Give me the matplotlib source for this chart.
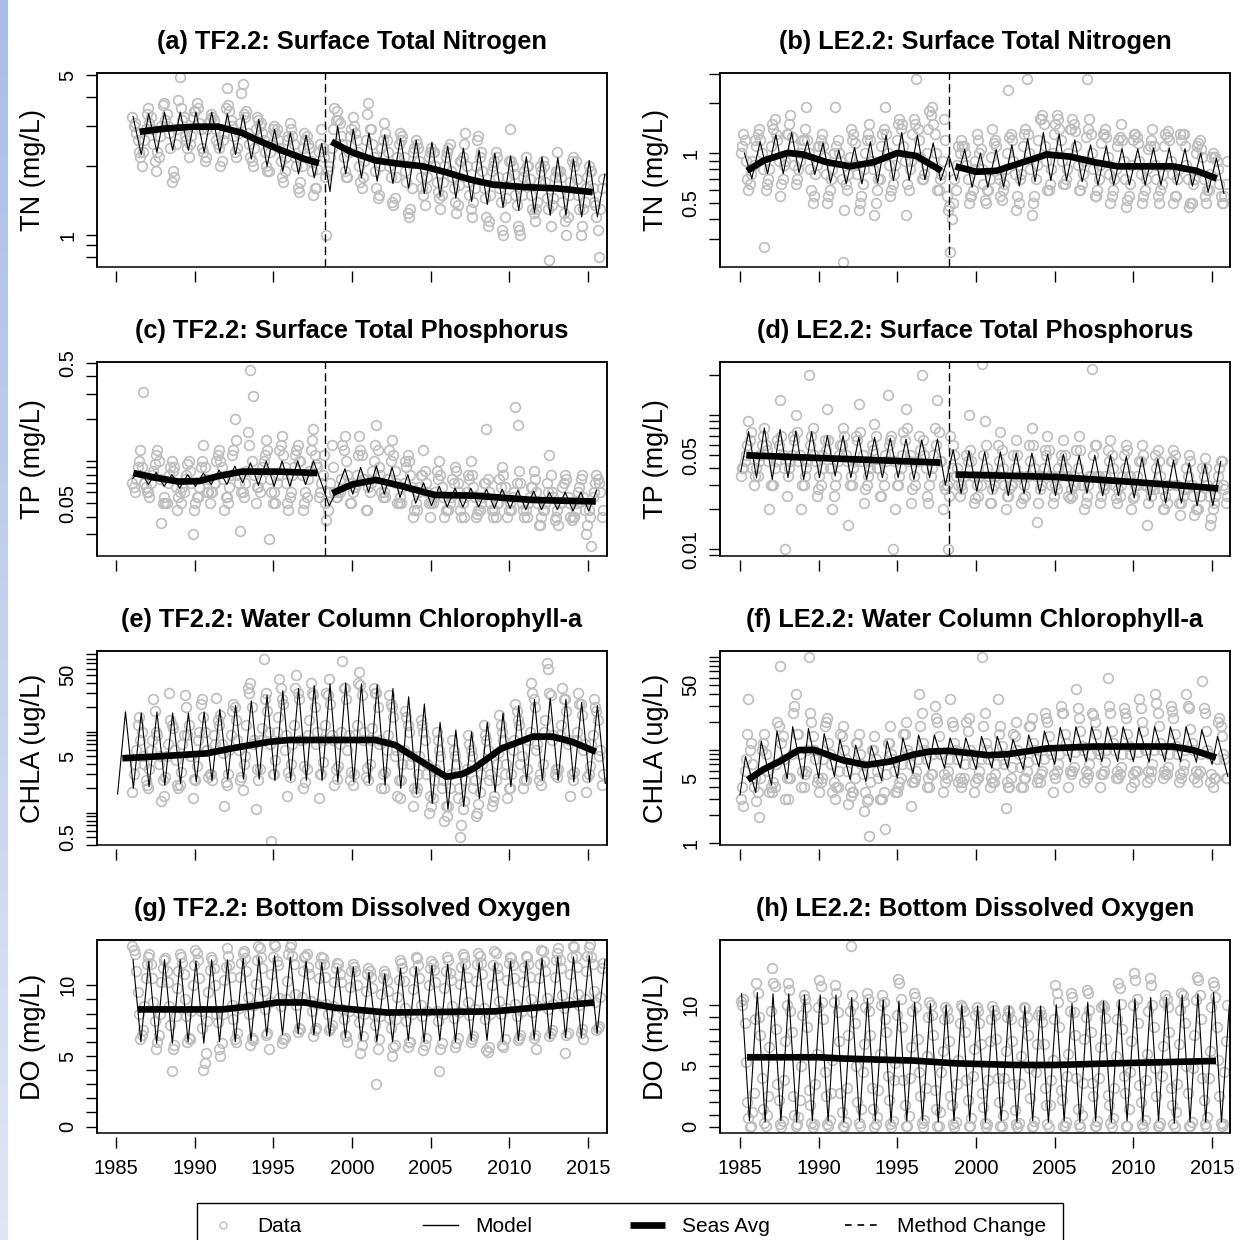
import numpy as np
import matplotlib.pyplot as plt
from matplotlib.lines import Line2D
from matplotlib.patches import Rectangle
from matplotlib.ticker import NullLocator
from matplotlib.colors import LinearSegmentedColormap

plt.rcParams['font.family'] = ['Liberation Sans', 'DejaVu Sans']

# sampling times inside each year: first set (Jan, Mar, ... Nov), second set (Feb, Apr, ... Dec)
months = [0.04, 0.21, 0.375, 0.54, 0.71, 0.875]
months2 = [0.125, 0.29, 0.46, 0.625, 0.79, 0.96]
year_ticks = [1985, 1990, 1995, 2000, 2005, 2010, 2015]
method_change = 1998.3

titles = ['(a) TF2.2: Surface Total Nitrogen', '(b) LE2.2: Surface Total Nitrogen',
          '(c) TF2.2: Surface Total Phosphorus', '(d) LE2.2: Surface Total Phosphorus',
          '(e) TF2.2: Water Column Chlorophyll-a', '(f) LE2.2: Water Column Chlorophyll-a',
          '(g) TF2.2: Bottom Dissolved Oxygen', '(h) LE2.2: Bottom Dissolved Oxygen']
ylabels = ['TN (mg/L)', 'TN (mg/L)', 'TP (mg/L)', 'TP (mg/L)',
           'CHLA (ug/L)', 'CHLA (ug/L)', 'DO (mg/L)', 'DO (mg/L)']
legend_labels = ['Data', 'Model', 'Seas Avg', 'Method Change']

# ---------------- (a) TN TF2.2, data 1986-2015
tn_tf_data = [
    [3.3, 3.1, 2.6, 2.2, 2.3, 2.9], [3.6, 3.3, 2.5, 1.9, 2.2, 3.0], [3.8, 3.4, 2.8, 1.7, 1.8, 2.9],
    [4.9, 3.2, 2.7, 2.4, 2.5, 3.3], [3.5, 3.6, 2.9, 2.3, 2.2, 3.1], [3.4, 3.2, 2.6, 2.4, 2.1, 2.8],
    [4.4, 3.5, 3.0, 2.3, 2.4, 3.1], [4.6, 3.3, 2.8, 2.2, 2.0, 2.9], [3.2, 3.1, 2.6, 2.0, 1.9, 2.5],
    [3.0, 2.9, 2.4, 1.8, 1.9, 2.6], [3.1, 2.7, 2.2, 1.6, 1.7, 2.4], [2.6, 2.5, 2.1, 1.5, 1.6, 2.3],
    [2.9, 2.2, 1.0, 2.0, 2.4, 3.6], [3.5, 3.1, 2.5, 1.9, 1.8, 2.7], [3.3, 2.8, 2.3, 1.7, 1.8, 2.6],
    [3.8, 2.9, 2.2, 1.6, 1.5, 2.4], [3.1, 2.6, 2.0, 1.4, 1.45, 2.2], [2.8, 2.7, 1.9, 1.25, 1.3, 2.3],
    [2.6, 2.4, 1.8, 1.5, 1.6, 2.2], [2.4, 2.3, 1.7, 1.45, 1.5, 2.0], [2.3, 2.5, 1.8, 1.4, 1.35, 2.1],
    [2.2, 2.8, 1.7, 1.3, 1.4, 2.0], [2.7, 2.3, 1.6, 1.2, 1.15, 1.9], [2.1, 2.2, 1.6, 1.05, 1.2, 1.8],
    [2.9, 2.0, 1.5, 1.1, 1.0, 1.8], [2.2, 2.0, 1.5, 1.25, 1.3, 1.7], [1.9, 2.0, 1.45, 0.78, 1.35, 1.8],
    [2.3, 1.9, 1.4, 1.15, 1.2, 1.7], [2.2, 2.1, 1.5, 1.0, 1.3, 1.6], [2.0, 1.9, 1.4, 1.2, 0.8, 1.6]]
tn_tf_data2 = [
    [3.0, 2.8, 2.3, 2.0, 2.6, 3.4], [3.1, 2.9, 2.1, 2.3, 2.7, 3.7], [3.2, 3.0, 2.4, 1.9, 2.5, 3.9],
    [3.6, 3.3, 2.6, 2.2, 2.7, 3.5], [3.8, 3.1, 2.4, 2.1, 2.9, 3.2], [3.3, 2.9, 2.5, 2.0, 2.6, 3.6],
    [3.7, 3.2, 2.7, 2.2, 2.8, 4.2], [3.4, 3.5, 2.5, 2.1, 2.4, 3.3], [3.0, 2.8, 2.3, 1.9, 2.3, 2.9],
    [2.8, 2.6, 2.1, 1.7, 2.2, 2.7], [2.9, 2.5, 2.0, 1.55, 2.0, 2.8], [2.7, 2.4, 1.9, 1.6, 1.95, 2.5],
    [2.4, 1.8, 1.9, 2.2, 2.9, 3.2], [3.2, 2.7, 2.2, 1.8, 2.3, 2.9], [3.0, 2.6, 2.0, 1.6, 2.1, 3.4],
    [2.9, 2.5, 1.9, 1.45, 2.0, 2.6], [2.8, 2.3, 1.8, 1.35, 1.8, 2.5], [2.6, 2.2, 1.7, 1.2, 1.6, 2.4],
    [2.5, 2.1, 1.6, 1.35, 1.8, 2.3], [2.3, 2.0, 1.55, 1.3, 1.7, 2.2], [2.4, 1.9, 1.6, 1.25, 1.65, 2.1],
    [2.5, 2.0, 1.5, 1.2, 1.6, 2.6], [2.2, 1.9, 1.45, 1.1, 1.5, 2.0], [2.3, 1.8, 1.4, 1.0, 1.45, 2.1],
    [2.1, 1.85, 1.35, 1.05, 1.5, 1.9], [2.0, 1.75, 1.3, 1.15, 1.4, 2.0], [2.1, 1.7, 1.3, 1.1, 1.45, 1.9],
    [1.9, 1.8, 1.25, 1.0, 1.5, 2.1], [2.0, 1.75, 1.3, 1.1, 1.4, 1.8], [1.9, 1.6, 1.35, 1.05, 1.3, 1.75]]
tn_tf_hi = [3.3, 3.4, 3.45, 3.45, 3.45, 3.45, 3.4, 3.35, 3.2, 2.9, 2.8, 2.74, 2.52, 3.0, 2.9, 2.8,
            2.75, 2.65, 2.6, 2.55, 2.45, 2.4, 2.35, 2.28, 2.22, 2.2, 2.2, 2.18, 2.15, 2.12, 1.85]
tn_tf_lo = [2.25, 2.3, 2.35, 2.35, 2.3, 2.3, 2.25, 2.15, 2.0, 1.9, 1.85, 1.78, 1.55, 1.85, 1.78,
            1.72, 1.68, 1.6, 1.52, 1.48, 1.45, 1.4, 1.36, 1.32, 1.28, 1.25, 1.22, 1.22, 1.2, 1.2]
tn_tf_avg_x = [1986.5, 1988, 1990, 1991.5, 1993, 1994, 1995.5, 1997, 1997.9, np.nan,
               1998.7, 2000, 2001.5, 2003, 2004.5, 2006, 2007.5, 2009, 2011, 2013, 2015.3]
tn_tf_avg_y = [2.83, 2.92, 2.98, 2.98, 2.8, 2.6, 2.35, 2.15, 2.06, np.nan,
               2.56, 2.3, 2.12, 2.05, 2.0, 1.88, 1.75, 1.66, 1.62, 1.6, 1.54]

# ---------------- (b) TN LE2.2, data 1985-2015
tn_le_data = [
    [1.0, 1.3, 0.9, 0.6, 0.75, 0.85], [1.1, 1.4, 1.0, 0.27, 0.65, 0.8], [1.5, 1.6, 1.2, 0.55, 0.7, 0.9],
    [1.3, 1.7, 1.1, 0.65, 0.8, 1.0], [1.2, 1.9, 1.0, 0.6, 0.55, 0.85], [1.1, 1.3, 0.95, 0.5, 0.6, 0.8],
    [1.9, 1.2, 0.9, 0.22, 0.65, 0.75], [1.4, 1.3, 0.85, 0.45, 0.55, 0.8], [1.2, 1.5, 0.9, 0.42, 0.6, 0.7],
    [1.3, 1.9, 1.0, 0.55, 0.65, 0.85], [1.5, 1.4, 1.1, 0.42, 0.6, 0.9], [1.6, 2.8, 1.2, 0.7, 0.75, 1.0],
    [1.8, 1.9, 1.3, 0.6, 0.7, 0.9], [1.2, 0.45, 0.25, 0.5, 0.6, 1.1], [1.2, 1.1, 0.85, 0.5, 0.55, 0.8],
    [1.3, 1.0, 0.8, 0.52, 0.6, 0.7], [1.4, 1.2, 0.75, 0.55, 0.6, 0.8], [2.4, 1.3, 0.9, 0.45, 0.5, 0.75],
    [1.3, 2.8, 1.0, 0.42, 0.55, 0.85], [1.6, 1.7, 1.1, 0.6, 0.65, 1.0], [1.5, 1.6, 1.2, 0.65, 0.7, 1.0],
    [1.4, 1.5, 1.1, 0.6, 0.65, 0.9], [2.8, 1.6, 1.0, 0.55, 0.6, 0.85], [1.3, 1.4, 0.95, 0.5, 0.6, 0.8],
    [1.2, 1.5, 0.9, 0.47, 0.55, 0.85], [1.3, 1.25, 0.9, 0.5, 0.6, 0.8], [1.1, 1.4, 0.85, 0.55, 0.6, 0.75],
    [1.3, 1.35, 0.9, 0.5, 0.55, 0.8], [1.2, 1.3, 0.85, 0.47, 0.5, 0.7], [1.1, 1.2, 0.95, 0.55, 0.6, 0.75],
    [1.0, 0.95, 0.8, 0.55, 0.5, 0.65]]
tn_le_data2 = [
    [1.1, 1.2, 0.7, 0.65, 0.9, 1.2], [1.3, 1.2, 0.8, 0.6, 0.7, 1.1], [1.4, 1.3, 0.9, 0.65, 0.85, 1.3],
    [1.5, 1.25, 0.85, 0.7, 0.9, 1.2], [1.4, 1.2, 0.8, 0.5, 0.75, 1.1], [1.2, 1.1, 0.75, 0.55, 0.7, 1.0],
    [1.1, 1.0, 0.7, 0.45, 0.6, 0.95], [1.2, 1.15, 0.75, 0.5, 0.65, 1.0], [1.3, 1.2, 0.8, 0.5, 0.7, 1.1],
    [1.4, 1.3, 0.85, 0.6, 0.75, 1.2], [1.6, 1.5, 0.9, 0.65, 0.8, 1.3], [1.5, 1.4, 0.95, 0.7, 0.85, 1.4],
    [1.7, 1.5, 1.0, 0.6, 0.75, 1.6], [0.55, 0.48, 0.4, 0.7, 0.85, 1.0], [1.1, 1.0, 0.7, 0.55, 0.6, 0.9],
    [1.2, 1.05, 0.65, 0.5, 0.6, 0.95], [1.15, 1.1, 0.7, 0.52, 0.65, 1.0], [1.25, 1.2, 0.75, 0.55, 0.7, 1.1],
    [1.4, 1.3, 0.8, 0.5, 0.7, 1.2], [1.6, 1.5, 0.9, 0.6, 0.8, 1.3], [1.7, 1.4, 0.9, 0.65, 0.8, 1.4],
    [1.6, 1.35, 0.85, 0.6, 0.75, 1.25], [1.4, 1.3, 0.8, 0.55, 0.7, 1.15], [1.3, 1.25, 0.75, 0.55, 0.7, 1.1],
    [1.25, 1.2, 0.7, 0.52, 0.65, 1.2], [1.3, 1.15, 0.75, 0.55, 0.7, 1.05], [1.2, 1.1, 0.7, 0.5, 0.65, 1.1],
    [1.25, 1.2, 0.75, 0.55, 0.7, 1.3], [1.3, 1.1, 0.7, 0.5, 0.65, 1.0], [1.15, 1.05, 0.7, 0.5, 0.6, 0.95],
    [0.95, 0.9, 0.65, 0.5, 0.55, 0.9]]
tn_le_hi = [1.0, 1.17, 1.29, 1.33, 1.18, 1.15, 1.04, 1.08, 1.17, 1.28, 1.33, 1.28, 1.15, 0.97, 1.05,
            1.0, 1.05, 1.12, 1.22, 1.33, 1.3, 1.2, 1.12, 1.1, 1.06, 1.06, 1.07, 1.07, 1.06, 1.0, 0.93]
tn_le_lo = [0.7, 0.75, 0.75, 0.76, 0.74, 0.66, 0.65, 0.65, 0.66, 0.68, 0.68, 0.69, 0.68, 0.68, 0.62,
            0.62, 0.62, 0.63, 0.67, 0.68, 0.68, 0.67, 0.64, 0.64, 0.64, 0.64, 0.64, 0.64, 0.63, 0.58, 0.57]
tn_le_avg_x = [1985.45, 1986.5, 1988, 1989, 1990.5, 1992, 1993.5, 1995, 1996.2, 1997.8, np.nan,
               1998.7, 2000, 2001.3, 2003, 2004.5, 2006, 2007.5, 2009, 2012.5, 2014, 2015.3]
tn_le_avg_y = [0.78, 0.9, 1.0, 0.98, 0.88, 0.83, 0.88, 1.0, 0.96, 0.78, np.nan,
               0.83, 0.77, 0.78, 0.88, 0.98, 0.95, 0.88, 0.83, 0.83, 0.78, 0.7]

# ---------------- (c) TP TF2.2, data 1986-2015
tp_tf_data = [
    [0.07, 0.06, 0.09, 0.12, 0.31, 0.065], [0.06, 0.07, 0.085, 0.11, 0.1, 0.036],
    [0.055, 0.05, 0.08, 0.1, 0.09, 0.045], [0.06, 0.065, 0.075, 0.095, 0.085, 0.03],
    [0.05, 0.055, 0.09, 0.13, 0.075, 0.06], [0.06, 0.07, 0.1, 0.12, 0.09, 0.045],
    [0.055, 0.065, 0.11, 0.2, 0.08, 0.032], [0.06, 0.07, 0.16, 0.44, 0.29, 0.05],
    [0.065, 0.075, 0.1, 0.14, 0.028, 0.06], [0.06, 0.07, 0.12, 0.15, 0.09, 0.05],
    [0.055, 0.08, 0.11, 0.13, 0.1, 0.045], [0.06, 0.075, 0.12, 0.17, 0.095, 0.055],
    [0.07, 0.11, 0.038, 0.06, 0.13, 0.06], [0.055, 0.06, 0.13, 0.15, 0.08, 0.05],
    [0.06, 0.065, 0.11, 0.12, 0.075, 0.045], [0.065, 0.07, 0.1, 0.18, 0.09, 0.06],
    [0.06, 0.075, 0.12, 0.14, 0.085, 0.05], [0.055, 0.065, 0.1, 0.11, 0.08, 0.04],
    [0.05, 0.06, 0.08, 0.12, 0.07, 0.05], [0.05, 0.055, 0.085, 0.1, 0.065, 0.04],
    [0.045, 0.05, 0.075, 0.09, 0.07, 0.045], [0.05, 0.055, 0.08, 0.1, 0.065, 0.04],
    [0.045, 0.05, 0.07, 0.17, 0.06, 0.045], [0.045, 0.05, 0.075, 0.09, 0.065, 0.04],
    [0.05, 0.055, 0.24, 0.18, 0.07, 0.045], [0.045, 0.05, 0.065, 0.085, 0.06, 0.035],
    [0.04, 0.045, 0.07, 0.11, 0.06, 0.038], [0.045, 0.05, 0.065, 0.08, 0.055, 0.04],
    [0.04, 0.045, 0.06, 0.075, 0.055, 0.03], [0.045, 0.025, 0.06, 0.08, 0.07, 0.04]]
tp_tf_data2 = [
    [0.065, 0.075, 0.1, 0.09, 0.07, 0.06], [0.055, 0.08, 0.095, 0.12, 0.075, 0.05],
    [0.05, 0.07, 0.09, 0.085, 0.065, 0.055], [0.05, 0.06, 0.08, 0.1, 0.07, 0.045],
    [0.055, 0.065, 0.1, 0.09, 0.06, 0.05], [0.06, 0.07, 0.11, 0.1, 0.075, 0.055],
    [0.05, 0.08, 0.12, 0.14, 0.07, 0.06], [0.055, 0.085, 0.13, 0.1, 0.08, 0.065],
    [0.06, 0.09, 0.11, 0.12, 0.075, 0.05], [0.05, 0.08, 0.13, 0.11, 0.07, 0.045],
    [0.06, 0.09, 0.12, 0.1, 0.08, 0.05], [0.055, 0.085, 0.14, 0.11, 0.09, 0.06],
    [0.08, 0.05, 0.045, 0.07, 0.09, 0.055], [0.06, 0.075, 0.12, 0.1, 0.07, 0.05],
    [0.065, 0.08, 0.15, 0.11, 0.075, 0.045], [0.06, 0.085, 0.13, 0.12, 0.08, 0.055],
    [0.055, 0.075, 0.1, 0.11, 0.07, 0.05], [0.05, 0.07, 0.09, 0.1, 0.065, 0.045],
    [0.045, 0.065, 0.08, 0.085, 0.06, 0.04], [0.05, 0.06, 0.075, 0.08, 0.055, 0.045],
    [0.045, 0.055, 0.07, 0.085, 0.06, 0.04], [0.04, 0.06, 0.075, 0.08, 0.055, 0.042],
    [0.045, 0.055, 0.07, 0.075, 0.05, 0.04], [0.04, 0.05, 0.065, 0.08, 0.055, 0.045],
    [0.045, 0.06, 0.07, 0.085, 0.05, 0.04], [0.04, 0.055, 0.065, 0.075, 0.05, 0.035],
    [0.045, 0.05, 0.06, 0.08, 0.055, 0.04], [0.035, 0.05, 0.07, 0.075, 0.05, 0.038],
    [0.04, 0.05, 0.065, 0.08, 0.045, 0.035], [0.04, 0.055, 0.07, 0.075, 0.06, 0.045]]
tp_tf_hi = [0.085, 0.083, 0.08, 0.08, 0.082, 0.086, 0.092, 0.097, 0.1, 0.1, 0.1, 0.1, 0.048, 0.088,
            0.09, 0.092, 0.09, 0.08, 0.07, 0.066, 0.064, 0.064, 0.063, 0.063, 0.062, 0.061, 0.06,
            0.06, 0.06, 0.062]
tp_tf_lo = [0.075, 0.068, 0.066, 0.064, 0.066, 0.068, 0.068, 0.07, 0.067, 0.066, 0.066, 0.068, 0.07,
            0.062, 0.058, 0.06, 0.058, 0.055, 0.05, 0.048, 0.047, 0.047, 0.047, 0.046, 0.046, 0.045,
            0.045, 0.045, 0.044, 0.044]
tp_tf_avg_x = [1986.1, 1987.5, 1989, 1990.3, 1991.5, 1993, 1995.3, 1997.8, np.nan,
               1998.75, 2000, 2001.5, 2003, 2005.25, 2007.75, 2011.5, 2015.5]
tp_tf_avg_y = [0.082, 0.076, 0.0713, 0.072, 0.078, 0.084, 0.084, 0.082, np.nan,
               0.059, 0.068, 0.0733, 0.067, 0.0573, 0.0567, 0.0528, 0.0515]

# ---------------- (d) TP LE2.2, data 1985-2015
tp_le_data = [
    [0.035, 0.04, 0.05, 0.09, 0.075, 0.03], [0.04, 0.045, 0.06, 0.08, 0.055, 0.02],
    [0.03, 0.04, 0.065, 0.13, 0.05, 0.01], [0.035, 0.045, 0.07, 0.1, 0.045, 0.02],
    [0.03, 0.04, 0.2, 0.07, 0.05, 0.025], [0.035, 0.05, 0.065, 0.11, 0.04, 0.02],
    [0.03, 0.045, 0.06, 0.08, 0.05, 0.015], [0.035, 0.04, 0.07, 0.12, 0.045, 0.022],
    [0.03, 0.045, 0.06, 0.085, 0.04, 0.025], [0.035, 0.05, 0.14, 0.065, 0.01, 0.02],
    [0.03, 0.04, 0.075, 0.11, 0.045, 0.022], [0.035, 0.045, 0.07, 0.2, 0.05, 0.025],
    [0.03, 0.04, 0.08, 0.13, 0.045, 0.02], [0.028, 0.01, 0.07, 0.06, 0.035, 0.03],
    [0.03, 0.035, 0.05, 0.1, 0.045, 0.022], [0.03, 0.035, 0.24, 0.09, 0.04, 0.022],
    [0.028, 0.035, 0.06, 0.075, 0.04, 0.02], [0.025, 0.03, 0.05, 0.065, 0.035, 0.022],
    [0.03, 0.035, 0.06, 0.08, 0.04, 0.016], [0.028, 0.035, 0.055, 0.07, 0.035, 0.022],
    [0.03, 0.04, 0.05, 0.065, 0.04, 0.025], [0.028, 0.035, 0.055, 0.07, 0.03, 0.02],
    [0.025, 0.035, 0.22, 0.06, 0.035, 0.022], [0.03, 0.035, 0.055, 0.065, 0.04, 0.024],
    [0.028, 0.03, 0.05, 0.06, 0.035, 0.02], [0.025, 0.035, 0.045, 0.06, 0.03, 0.015],
    [0.028, 0.03, 0.05, 0.055, 0.035, 0.02], [0.025, 0.03, 0.045, 0.055, 0.03, 0.022],
    [0.022, 0.028, 0.04, 0.05, 0.03, 0.018], [0.02, 0.025, 0.04, 0.048, 0.03, 0.015],
    [0.02, 0.025, 0.035, 0.045, 0.03, 0.022]]
tp_le_data2 = [
    [0.04, 0.045, 0.06, 0.065, 0.04, 0.035], [0.035, 0.05, 0.07, 0.06, 0.045, 0.03],
    [0.03, 0.045, 0.06, 0.07, 0.04, 0.025], [0.04, 0.05, 0.065, 0.075, 0.05, 0.03],
    [0.035, 0.045, 0.06, 0.08, 0.045, 0.028], [0.03, 0.04, 0.055, 0.065, 0.04, 0.025],
    [0.035, 0.05, 0.06, 0.07, 0.045, 0.03], [0.03, 0.045, 0.065, 0.075, 0.05, 0.028],
    [0.035, 0.04, 0.055, 0.07, 0.04, 0.025], [0.03, 0.045, 0.06, 0.07, 0.045, 0.03],
    [0.035, 0.05, 0.065, 0.08, 0.05, 0.028], [0.03, 0.045, 0.055, 0.065, 0.04, 0.022],
    [0.035, 0.05, 0.06, 0.075, 0.045, 0.03], [0.03, 0.025, 0.04, 0.05, 0.04, 0.025],
    [0.028, 0.035, 0.045, 0.055, 0.035, 0.024], [0.025, 0.03, 0.05, 0.06, 0.035, 0.022],
    [0.03, 0.035, 0.045, 0.055, 0.03, 0.025], [0.028, 0.03, 0.04, 0.05, 0.035, 0.024],
    [0.025, 0.035, 0.045, 0.06, 0.035, 0.022], [0.03, 0.04, 0.05, 0.055, 0.03, 0.025],
    [0.028, 0.035, 0.045, 0.05, 0.035, 0.024], [0.025, 0.03, 0.04, 0.055, 0.03, 0.022],
    [0.03, 0.035, 0.05, 0.06, 0.035, 0.025], [0.028, 0.03, 0.045, 0.05, 0.03, 0.022],
    [0.025, 0.035, 0.04, 0.055, 0.035, 0.024], [0.03, 0.03, 0.045, 0.05, 0.03, 0.022],
    [0.025, 0.028, 0.04, 0.045, 0.028, 0.02], [0.022, 0.03, 0.045, 0.05, 0.03, 0.018],
    [0.025, 0.028, 0.035, 0.045, 0.025, 0.02], [0.02, 0.025, 0.035, 0.04, 0.025, 0.017],
    [0.022, 0.03, 0.04, 0.045, 0.028, 0.025]]
tp_le_hi = [0.075, 0.08, 0.078, 0.076, 0.075, 0.07, 0.07, 0.068, 0.068, 0.067, 0.066, 0.065, 0.066,
            0.055, 0.054, 0.053, 0.053, 0.052, 0.052, 0.051, 0.051, 0.05, 0.05, 0.05, 0.049, 0.048,
            0.047, 0.046, 0.044, 0.043, 0.045]
tp_le_lo = [0.038, 0.034, 0.033, 0.034, 0.033, 0.034, 0.035, 0.034, 0.033, 0.034, 0.034, 0.033, 0.034,
            0.03, 0.026, 0.027, 0.026, 0.025, 0.026, 0.026, 0.025, 0.026, 0.026, 0.025, 0.025, 0.024,
            0.023, 0.022, 0.022, 0.021, 0.021]
tp_le_avg_x = [1985.4, 1991.5, 1997.75, np.nan, 1998.7, 2005, 2010, 2015.4]
tp_le_avg_y = [0.05, 0.047, 0.0441, np.nan, 0.0359, 0.0345, 0.0316, 0.0283]

# ---------------- (e) CHLA TF2.2, data 1986-2015
chla_tf_data = [
    [1.8, 4, 12, 8, 5, 2.5], [2, 6, 25, 10, 4, 1.4], [1.6, 5, 30, 12, 6, 2.2], [2.2, 7, 28, 9, 5, 1.5],
    [2.5, 8, 22, 15, 6, 2.8], [3, 9, 26, 12, 7, 1.2], [2.2, 6, 18, 20, 8, 2.5], [1.9, 5, 35, 40, 7, 1.1],
    [2.5, 8, 80, 30, 10, 0.45], [3, 10, 45, 25, 6, 1.6], [2.8, 7, 35, 30, 8, 2], [2.4, 9, 40, 28, 7, 1.5],
    [3, 8, 30, 45, 9, 2.2], [2.6, 7, 75, 35, 6, 2.5], [2.2, 9, 40, 38, 8, 2.8], [2.5, 8, 35, 30, 7, 2.0],
    [2, 6, 28, 20, 5, 1.6], [1.5, 4, 18, 12, 4, 1.2], [1.8, 3, 14, 10, 3, 1.0], [1.2, 2.5, 10, 6, 2, 0.8],
    [0.9, 2, 8, 5, 1.5, 0.5], [1.1, 2.5, 9, 6, 2, 0.9], [1.3, 3, 12, 8, 2.5, 1.2], [1.6, 4, 16, 10, 3, 1.5],
    [2, 6, 22, 14, 4, 2], [2.5, 8, 40, 25, 6, 2.5], [2.2, 10, 70, 30, 8, 3], [2.8, 9, 35, 25, 7, 1.6],
    [2.5, 8, 30, 22, 6, 1.8], [3, 7, 25, 18, 5, 2.2]]
chla_tf_data2 = [
    [3, 6, 15, 10, 4, 2.2], [3.5, 8, 18, 9, 5, 2.5], [2.8, 7, 14, 11, 4.5, 2], [3.2, 9, 20, 12, 5, 2.6],
    [3.8, 10, 25, 10, 6, 3], [2.5, 7, 14, 16, 5.5, 2.4], [3, 9, 22, 14, 6, 2.8], [4, 12, 30, 20, 8, 3.5],
    [3.5, 11, 25, 18, 7, 3], [4.5, 15, 35, 22, 9, 3.2], [4, 12, 50, 25, 8, 3.8], [3.5, 14, 30, 20, 10, 3],
    [4.2, 12, 28, 22, 8, 3.5], [3.8, 10, 35, 25, 9, 3.2], [3, 12, 55, 28, 10, 3.6], [4, 11, 30, 20, 8, 3],
    [3.2, 9, 22, 15, 6, 2.5], [2.5, 6, 15, 10, 5, 2], [2, 5, 12, 8, 4, 1.6], [1.5, 3.5, 8, 5, 2.5, 1.2],
    [1.2, 3, 6, 4, 2, 0.7], [1.4, 3.5, 7, 5, 2.5, 1.0], [1.8, 4, 9, 6, 3, 1.4], [2.5, 5.5, 12, 8, 4, 2],
    [3, 8, 18, 12, 5, 2.5], [3.5, 10, 30, 20, 7, 3], [4, 14, 60, 28, 9, 3.5], [3.5, 12, 25, 18, 8, 3],
    [3.2, 10, 22, 16, 7, 2.8], [3.8, 9, 20, 14, 6, 3]]
chla_tf_hi = [17.6, 17, 17.5, 17, 17, 17.5, 19, 21, 24, 28, 32, 34, 37, 39, 40, 39, 38, 34, 27, 22,
              13, 10.5, 10, 13, 17, 21, 25, 26, 25, 23, 21]
chla_tf_lo = [1.7, 2.0, 2.1, 2.2, 2.3, 2.4, 2.5, 2.6, 2.6, 2.6, 2.5, 2.5, 2.5, 2.5, 2.4, 2.4, 2.3,
              2.2, 2.0, 1.7, 1.3, 1.1, 1.2, 1.5, 1.8, 2.1, 2.4, 2.5, 2.5, 2.4, 2.4, 2.3]
chla_tf_avg_x = [1985.4, 1988, 1990.75, 1992.5, 1994.75, 1996, 2001.5, 2002.75, 2004, 2004.75, 2006,
                 2007, 2007.75, 2009.5, 2011.5, 2012.75, 2014, 2015.5]
chla_tf_avg_y = [4.7, 5.0, 5.4, 6.3, 7.5, 7.9, 7.9, 6.85, 4.8, 3.9, 2.78, 3.0, 3.53, 6.2, 8.7, 8.7,
                 7.5, 5.66]

# ---------------- (f) CHLA LE2.2, data 1985-2015
chla_le_data = [
    [3, 2.5, 8, 35, 12, 4], [2.8, 1.9, 10, 15, 6, 3.5], [3.5, 4, 20, 80, 14, 3], [3, 5, 25, 40, 15, 4],
    [4, 6, 100, 20, 10, 4.5], [3.5, 5, 18, 22, 9, 3.5], [3, 4, 15, 18, 8, 2.6], [3.2, 3.5, 12, 15, 7, 2.2],
    [2.8, 1.2, 10, 14, 6, 3], [3, 1.4, 12, 18, 8, 3.5], [4, 5, 15, 20, 9, 2.5], [4.5, 6, 40, 25, 10, 4],
    [4, 5.5, 30, 20, 9, 3.5], [4.5, 6, 35, 18, 10, 4.5], [4, 5, 20, 22, 9, 3.5], [5, 6, 100, 25, 10, 4],
    [4.5, 5.5, 35, 18, 8, 2.4], [4, 5, 15, 20, 9, 4], [5, 6, 18, 22, 10, 4.5], [4.5, 6, 25, 20, 10, 3.5],
    [5, 7, 30, 25, 12, 4], [5.5, 6.5, 45, 22, 11, 4.5], [5, 7, 25, 20, 10, 4], [5.5, 7.5, 60, 25, 12, 5],
    [5, 6.5, 28, 22, 11, 4], [4.5, 6, 35, 20, 10, 4.5], [5, 7, 40, 25, 12, 5], [5.5, 6.5, 30, 22, 11, 4.5],
    [5, 7, 40, 28, 12, 5], [4.5, 6, 55, 25, 10, 4.5], [4, 5, 20, 18, 9, 5]]
chla_le_data2 = [
    [4, 6, 15, 10, 7, 5], [3.5, 5, 12, 9, 6, 4], [4.5, 7, 18, 12, 8, 5], [5, 9, 30, 15, 9, 6],
    [5.5, 10, 25, 14, 8, 5], [4.5, 8, 20, 12, 7, 4.5], [4, 6, 14, 10, 6, 4], [3.5, 5, 12, 9, 5.5, 3.5],
    [3, 4.5, 10, 8, 5, 3], [3.5, 5.5, 12, 9, 6, 3.5], [4.5, 7, 15, 10, 7, 4.5], [5, 8, 18, 12, 8, 5],
    [5.5, 9, 22, 14, 9, 5.5], [5, 8, 20, 12, 8, 5], [4.5, 7, 16, 10, 7, 4.5], [5, 8, 18, 12, 8, 5],
    [4.5, 7, 15, 11, 7, 4.5], [4, 6.5, 14, 10, 6.5, 4], [5, 7.5, 18, 12, 8, 5], [5.5, 8, 22, 14, 9, 5.5],
    [6, 9, 25, 15, 10, 6], [6, 9.5, 28, 16, 10, 6], [5.5, 9, 24, 15, 9, 5.5], [6, 10, 30, 16, 10, 6],
    [5.5, 9, 25, 15, 9, 5.5], [6, 9.5, 28, 16, 10, 6], [6, 10, 32, 18, 10, 6], [5.5, 9, 26, 15, 9, 5.5],
    [6, 10, 30, 17, 10, 6], [5.5, 9, 28, 16, 9, 5.5], [5, 8, 22, 14, 8, 5]]
chla_le_hi = [8.5, 12.5, 16, 17.8, 17, 15, 13, 11.3, 11, 12.5, 13.5, 14.5, 14.5, 13.5, 13.5, 14, 14,
              13, 14.5, 16, 17.5, 17.8, 17.8, 17.8, 17.8, 17.5, 17.8, 17.8, 17.8, 16.5, 14]
chla_le_lo = [3.3, 3.5, 4.2, 4.9, 4.9, 5.0, 5.2, 4.8, 4.6, 4.7, 5.0, 5.6, 6.2, 6.4, 6.4, 6.2, 6.4,
              6.4, 6.2, 6.6, 7.0, 7.4, 7.5, 7.5, 7.5, 7.5, 7.4, 7.5, 7.5, 7.4, 7.0, 5.2]
chla_le_avg_x = [1985.5, 1986.5, 1987.5, 1988.75, 1989.75, 1991.5, 1993, 1994.5, 1996, 1997, 1998.25,
                 1999.5, 2000.75, 2002, 2004.5, 2007.5, 2012.5, 2013.75, 2015.25]
chla_le_avg_y = [4.76, 6.2, 7.5, 10, 10, 7.8, 6.9, 7.5, 8.9, 9.6, 9.8, 9.3, 8.8, 9.0, 10.4, 10.9,
                 10.9, 10, 8.3]

# ---------------- (g) DO TF2.2, data 1986-2015
do_tf_data = [
    [12.8, 12.2, 9.5, 6.2, 6.8, 10.5], [12.0, 11.5, 8.8, 5.5, 6.5, 10.2], [11.8, 11.0, 8.5, 3.9, 5.8, 9.8],
    [12.2, 11.6, 9.0, 6.0, 6.2, 10.0], [12.5, 11.8, 8.2, 4.0, 5.2, 9.5], [12.0, 11.2, 8.0, 5.5, 5.9, 10.4],
    [12.6, 11.4, 8.6, 6.2, 6.6, 10.6], [12.3, 11.9, 9.2, 5.8, 6.1, 10.1], [12.8, 12.0, 9.6, 6.5, 5.5, 10.8],
    [12.9, 11.7, 9.1, 5.9, 6.3, 10.3], [12.7, 12.1, 9.4, 6.7, 6.9, 11.0], [12.1, 11.3, 8.9, 6.4, 7.0, 10.5],
    [12.0, 11.5, 8.7, 6.8, 7.2, 10.2], [11.6, 10.8, 8.3, 6.5, 6.0, 9.9], [11.5, 11.0, 8.1, 5.2, 6.4, 9.6],
    [11.2, 10.6, 7.9, 3.0, 6.2, 9.4], [11.0, 10.4, 7.7, 5.0, 5.8, 9.2], [11.8, 11.2, 8.4, 5.6, 6.0, 9.7],
    [12.0, 11.4, 8.6, 5.4, 6.3, 10.0], [11.7, 11.1, 8.2, 3.9, 5.9, 9.8], [12.0, 10.9, 8.5, 5.6, 6.3, 10.1],
    [12.2, 11.5, 8.8, 6.0, 6.4, 10.3], [12.3, 11.6, 8.4, 5.4, 5.6, 10.0], [12.4, 11.2, 8.9, 5.8, 6.2, 10.4],
    [12.0, 11.4, 8.7, 6.1, 6.5, 10.2], [12.1, 11.5, 9.0, 6.3, 5.5, 10.5], [12.5, 11.7, 9.1, 6.4, 6.8, 10.6],
    [12.3, 11.8, 9.3, 5.2, 6.6, 10.8], [12.8, 12.1, 9.4, 6.6, 6.2, 11.0], [12.7, 12.0, 9.6, 6.8, 7.1, 11.2]]
do_tf_data2 = [
    [12.5, 11.0, 8.0, 6.5, 8.5, 11.5], [12.2, 10.5, 7.5, 6.0, 8.0, 11.2], [11.9, 10.2, 7.2, 5.5, 7.8, 11.0],
    [12.0, 10.8, 7.8, 6.3, 8.2, 11.4], [12.3, 10.5, 7.0, 4.5, 7.5, 11.1], [11.8, 10.0, 7.4, 5.0, 8.0, 11.3],
    [12.1, 10.6, 7.6, 6.0, 8.4, 11.6], [12.4, 11.0, 8.0, 6.3, 8.6, 11.8], [12.6, 11.2, 8.3, 6.6, 8.8, 12.0],
    [12.8, 11.4, 8.5, 6.2, 9.0, 12.2], [12.9, 11.5, 8.6, 7.0, 9.2, 12.0], [12.2, 10.8, 8.2, 6.8, 8.7, 11.5],
    [11.9, 10.6, 8.0, 7.0, 8.5, 11.2], [11.5, 10.2, 7.6, 6.4, 8.2, 11.0], [11.3, 10.0, 7.4, 5.8, 8.0, 10.8],
    [11.0, 9.8, 7.2, 5.5, 7.8, 10.5], [10.8, 9.6, 7.0, 5.6, 7.6, 10.4], [11.6, 10.3, 7.5, 6.0, 8.0, 11.0],
    [11.9, 10.5, 7.8, 5.8, 8.2, 11.2], [11.5, 10.2, 7.5, 5.5, 8.0, 11.0], [11.8, 10.4, 7.7, 5.9, 8.1, 11.3],
    [12.0, 10.6, 7.9, 6.2, 8.3, 11.5], [12.1, 10.8, 7.6, 5.3, 8.0, 11.4], [12.3, 10.7, 8.0, 5.6, 8.4, 11.6],
    [11.9, 10.5, 7.8, 6.3, 8.2, 11.3], [12.0, 10.6, 8.1, 6.5, 8.5, 11.5], [12.4, 11.0, 8.3, 6.6, 8.7, 11.8],
    [12.6, 11.2, 8.4, 6.5, 8.8, 12.0], [12.7, 11.3, 8.6, 6.9, 9.0, 12.1], [12.9, 11.5, 8.8, 7.0, 9.2, 11.6]]
do_tf_hi = [11.8, 11.7, 11.8, 11.8, 11.7, 11.8, 11.8, 11.9, 12.0, 12.1, 12.0, 11.7, 11.6, 11.3, 11.3,
            10.9, 10.8, 11.2, 11.3, 11.4, 11.5, 11.5, 11.6, 11.6, 11.7, 11.7, 11.9, 12.0, 12.0, 12.1, 11.8]
do_tf_lo = [6.0, 5.9, 5.9, 6.0, 5.9, 6.0, 6.0, 6.1, 6.4, 6.5, 6.6, 6.5, 6.4, 6.3, 6.1, 6.0, 6.0, 6.1,
            6.0, 6.1, 6.0, 6.1, 6.1, 6.0, 6.1, 6.2, 6.2, 6.3, 6.3, 6.6]
do_tf_avg_x = [1986.4, 1991.75, 1993.5, 1995.25, 1997, 1999, 2002.25, 2005, 2009, 2012, 2015.4]
do_tf_avg_y = [8.29, 8.29, 8.5, 8.78, 8.78, 8.4, 8.07, 8.1, 8.15, 8.45, 8.78]

# ---------------- (h) DO LE2.2, data 1985-2015
do_le_data = [
    [10.3, 10.5, 5.3, 0.7, 0.1, 2.8], [11.8, 9.0, 4.0, 0.3, 1.0, 6.5], [13.0, 11.5, 3.5, 0.2, 0.5, 7.0],
    [11.8, 9.5, 2.5, 0.1, 0.8, 5.0], [10.8, 9.8, 3.0, 0.3, 0.2, 6.0], [12.0, 10.2, 4.5, 0.2, 0.6, 5.5],
    [11.6, 9.4, 2.8, 0.1, 0.4, 7.5], [14.8, 10.0, 5.0, 0.3, 1.5, 6.8], [11.0, 9.5, 3.2, 0.0, 0.8, 6.0],
    [10.8, 8.8, 4.2, 0.2, 0.5, 5.2], [12.1, 10.5, 3.8, 0.1, 0.9, 6.5], [11.0, 9.8, 4.5, 0.3, 0.6, 5.8],
    [10.2, 9.2, 3.0, 0.1, 1.2, 6.2], [9.8, 8.9, 2.5, 0.2, 0.4, 5.5], [10.0, 9.5, 3.8, 0.1, 0.7, 6.4],
    [9.8, 8.5, 2.8, 0.3, 0.2, 7.0], [9.9, 9.2, 4.0, 0.1, 1.0, 6.2], [9.6, 8.8, 3.5, 0.2, 0.3, 5.8],
    [9.8, 9.0, 4.8, 0.0, 0.5, 6.8], [9.5, 8.6, 3.2, 0.2, 1.8, 5.5], [11.6, 10.2, 3.0, 0.1, 0.4, 6.0],
    [11.0, 9.4, 4.0, 0.2, 1.0, 7.2], [11.2, 9.6, 3.6, 0.1, 0.5, 6.5], [10.0, 8.9, 2.6, 0.3, 0.7, 5.8],
    [11.8, 10.1, 4.2, 0.1, 1.5, 7.0], [12.6, 10.5, 3.4, 0.2, 0.6, 6.0], [12.2, 10.0, 4.8, 0.1, 0.3, 6.6],
    [10.8, 9.8, 3.2, 0.2, 1.2, 6.8], [11.0, 10.2, 5.0, 0.1, 0.4, 7.5], [12.3, 10.8, 4.0, 0.2, 0.8, 6.2],
    [11.9, 10.6, 5.5, 0.3, 0.2, 7.0]]
do_le_data2 = [
    [10.0, 8.5, 2.0, 0.0, 1.2, 8.8], [11.0, 7.5, 1.5, 0.1, 2.5, 9.5], [11.8, 8.0, 2.2, 0.0, 3.8, 10.0],
    [11.2, 7.8, 1.0, 0.2, 2.2, 9.2], [10.5, 8.2, 1.8, 0.0, 3.5, 9.8], [11.5, 8.8, 2.5, 0.1, 2.8, 10.2],
    [11.0, 7.0, 1.2, 0.0, 3.2, 9.5], [10.8, 8.5, 2.0, 0.1, 4.5, 9.8], [10.5, 7.5, 1.5, 0.2, 3.0, 10.0],
    [10.2, 7.8, 2.2, 0.0, 3.8, 9.2], [11.8, 8.2, 1.8, 0.1, 4.0, 9.5], [10.6, 7.2, 2.5, 0.0, 3.2, 9.0],
    [10.0, 7.5, 1.5, 0.1, 4.5, 8.8], [9.6, 7.0, 1.8, 0.0, 3.5, 8.5], [9.8, 7.8, 2.2, 0.1, 4.2, 9.2],
    [9.5, 6.8, 1.6, 0.0, 3.8, 8.8], [9.6, 7.2, 2.0, 0.1, 4.0, 9.0], [9.4, 7.0, 1.4, 0.0, 3.5, 8.6],
    [9.7, 7.5, 2.4, 0.1, 4.5, 9.2], [9.2, 6.8, 1.8, 0.0, 3.8, 8.8], [11.0, 8.2, 2.2, 0.1, 4.2, 9.5],
    [10.6, 7.5, 1.5, 0.0, 3.6, 9.0], [11.0, 7.8, 2.5, 0.1, 4.0, 9.8], [9.8, 7.2, 1.8, 0.0, 3.2, 8.8],
    [11.4, 8.0, 2.8, 0.1, 4.5, 10.0], [12.0, 8.5, 2.0, 0.0, 3.8, 9.5], [11.6, 8.2, 2.5, 0.1, 4.2, 10.2],
    [10.5, 7.8, 1.8, 0.0, 3.5, 9.6], [10.8, 8.5, 2.8, 0.1, 4.8, 10.4], [12.0, 8.8, 2.2, 0.0, 4.0, 9.8],
    [11.5, 8.2, 2.5, 0.1, 4.5, 10.0]]
do_le_hi = [10.9, 11.0, 10.9, 10.9, 10.8, 10.8, 10.8, 10.6, 10.5, 10.4, 10.3, 10.2, 10.1, 10.0, 10.0,
            9.9, 9.9, 9.9, 9.9, 9.9, 10.0, 10.1, 10.2, 10.3, 10.4, 10.5, 10.6, 10.6, 10.8, 10.9, 11.0, 10.0]
do_le_lo = [0.5, 0.4, 0.5, 0.4, 0.5, 0.5, 0.4, 0.5, 0.5, 0.4, 0.5, 0.5, 0.4, 0.5, 0.5, 0.4, 0.5, 0.4,
            0.5, 0.4, 0.5, 0.4, 0.5, 0.4, 0.5, 0.4, 0.5, 0.3, 0.4, 0.4, 0.4]
do_le_avg_x = [1985.45, 1990, 1991.5, 1993.5, 1996, 1998.75, 2002.5, 2005, 2008.75, 2012, 2015.25]
do_le_avg_y = [5.7, 5.7, 5.6, 5.52, 5.43, 5.2, 5.07, 5.07, 5.2, 5.3, 5.4]

# panel options built from the lists above
panels = [
    dict(data=(tn_tf_data, tn_tf_data2), y0=1986, hi=(tn_tf_hi, 1986, 0.08), lo=(tn_tf_lo, 1986, 0.6),
         avg=(tn_tf_avg_x, tn_tf_avg_y), log=True, ylim=(0.724, 5.12), lab=[1, 5], brk=True),
    dict(data=(tn_le_data, tn_le_data2), y0=1985, hi=(tn_le_hi, 1985, 0.28), lo=(tn_le_lo, 1985, 0.75),
         avg=(tn_le_avg_x, tn_le_avg_y), log=True, ylim=(0.204, 3.05), lab=[0.5, 1], brk=True),
    dict(data=(tp_tf_data, tp_tf_data2), y0=1986, hi=(tp_tf_hi, 1986, 0.55), lo=(tp_tf_lo, 1986, 0.05),
         avg=(tp_tf_avg_x, tp_tf_avg_y), log=True, ylim=(0.0211, 0.505), lab=[0.05, 0.5], brk=True),
    dict(data=(tp_le_data, tp_le_data2), y0=1985, hi=(tp_le_hi, 1985, 0.55), lo=(tp_le_lo, 1985, 0.05),
         avg=(tp_le_avg_x, tp_le_avg_y), log=True, ylim=(0.00887, 0.248), lab=[0.01, 0.05], brk=True),
    dict(data=(chla_tf_data, chla_tf_data2), y0=1986, hi=(chla_tf_hi, 1985, 0.6), lo=(chla_tf_lo, 1985, 0.1),
         avg=(chla_tf_avg_x, chla_tf_avg_y), log=True, ylim=(0.40, 99), lab=[0.5, 5, 50], brk=False),
    dict(data=(chla_le_data, chla_le_data2), y0=1985, hi=(chla_le_hi, 1985, 0.35), lo=(chla_le_lo, 1985, 0.0),
         avg=(chla_le_avg_x, chla_le_avg_y), log=True, ylim=(0.952, 116), lab=[1, 5, 50], brk=False),
    dict(data=(do_tf_data, do_tf_data2), y0=1986, hi=(do_tf_hi, 1986, 0.08), lo=(do_tf_lo, 1986, 0.58),
         avg=(do_tf_avg_x, do_tf_avg_y), log=False, ylim=(-0.45, 13.2), lab=[0, 5, 10], brk=False),
    dict(data=(do_le_data, do_le_data2), y0=1985, hi=(do_le_hi, 1985, 0.1), lo=(do_le_lo, 1985, 0.6),
         avg=(do_le_avg_x, do_le_avg_y), log=False, ylim=(-0.5, 15.3), lab=[0, 5, 10], brk=False),
]

W, H = 1242, 1240
fig = plt.figure(figsize=(W / 100, H / 100), dpi=100)

# slide edge strip on the left
strip = fig.add_axes([0, 0, 8 / W, 1])
strip.imshow(np.linspace(0, 1, 64).reshape(-1, 1), aspect='auto', extent=[0, 1, 0, 1],
             cmap=LinearSegmentedColormap.from_list('edge', ['#a9bde6', '#dfe6f5']))
strip.axis('off')

col_x = [97, 720]
row_top = [73, 362, 651, 940]
row_h = [194, 194, 194, 193]

for i, p in enumerate(panels):
    r, c = divmod(i, 2)
    ax = fig.add_axes([col_x[c] / W, 1 - (row_top[r] + row_h[r]) / H, 510 / W, row_h[r] / H])

    # data points (two monthly sampling sets)
    xs, ys = [], []
    for rows, mon in zip(p['data'], (months, months2)):
        for k, row in enumerate(rows):
            for j, v in enumerate(row):
                xs.append(p['y0'] + k + mon[j])
                ys.append(v)
    ax.plot(xs, ys, 'o', ls='none', mfc='none', mec='#bebebe', ms=7, mew=1.2, zorder=1)

    # model line through seasonal highs and lows
    hv, hy0, hph = p['hi']
    lv, ly0, lph = p['lo']
    mx = [hy0 + k + hph for k in range(len(hv))] + [ly0 + k + lph for k in range(len(lv))]
    my = list(hv) + list(lv)
    order = np.argsort(mx)
    ax.plot(np.array(mx)[order], np.array(my)[order], color='k', lw=0.8, zorder=2)

    # seasonal average
    ax.plot(p['avg'][0], p['avg'][1], color='k', lw=4.8, solid_capstyle='butt', zorder=3)

    if p['brk']:
        ax.axvline(method_change, color='k', lw=1.0, ls=(0, (6, 3)), zorder=4)

    if c == 0:
        ax.set_xlim(1983.79, 2016.21)
    else:
        ax.set_xlim(1983.73, 2016.14)

    if p['log']:
        ax.set_yscale('log')
        lo, hi = p['ylim']
        ticks = [m * 10.0 ** e for e in range(-3, 3) for m in range(1, 10)
                 if lo <= m * 10.0 ** e <= hi]
    else:
        ticks = list(range(0, 11))
    labels = ['%g' % t if any(np.isclose(t, L) for L in p['lab']) else '' for t in ticks]
    ax.set_ylim(p['ylim'])
    ax.set_yticks(ticks)
    ax.set_yticklabels(labels, rotation=90, va='center')
    ax.yaxis.set_minor_locator(NullLocator())

    ax.set_xticks(year_ticks)
    ax.set_xticklabels([str(y) for y in year_ticks] if r == 3 else [''] * len(year_ticks))
    ax.xaxis.set_minor_locator(NullLocator())

    ax.tick_params(axis='both', direction='out', length=8, width=1.0, labelsize=14.5)
    ax.tick_params(axis='x', pad=8)
    ax.tick_params(axis='y', pad=6)

    for s in ax.spines.values():
        s.set_linewidth(1.1)
    ax.spines['bottom'].set_position(('outward', 3))
    ax.spines['bottom'].set_visible(False)
    ax.add_patch(Rectangle((0, 0), 1, 1, transform=ax.transAxes, fill=False, lw=1.1,
                           ec='k', clip_on=False, zorder=6))

    ax.set_title(titles[i], fontsize=18.3, fontweight='bold', pad=17)
    ax.set_ylabel(ylabels[i], fontsize=19.5)
    ax.yaxis.set_label_coords(-0.1, 0.5)

# legend: frame box running off the bottom edge, four equally spaced entries
fig.add_artist(Rectangle((197 / W, -0.02), 866 / W, 0.02 + 37 / H, transform=fig.transFigure,
                         fill=False, ec='k', lw=1.0))
handles = [Line2D([], [], ls='none', marker='o', mfc='none', mec='#bebebe', ms=5, mew=1.0),
           Line2D([], [], color='k', lw=1.0),
           Line2D([], [], color='k', lw=4.8, solid_capstyle='butt'),
           Line2D([], [], color='k', lw=1.2, ls=(0, (4, 3.5)))]
entry_x = [205, 423, 630, 845]
for h, lab, ex in zip(handles, legend_labels, entry_x):
    fig.legend([h], [lab], loc='center left', bbox_to_anchor=(ex / W, 1 - 1227 / H),
               fontsize=15, frameon=False, handlelength=1.7, handletextpad=0.8,
               borderpad=0, borderaxespad=0)

fig.savefig('out.png', dpi=100)
